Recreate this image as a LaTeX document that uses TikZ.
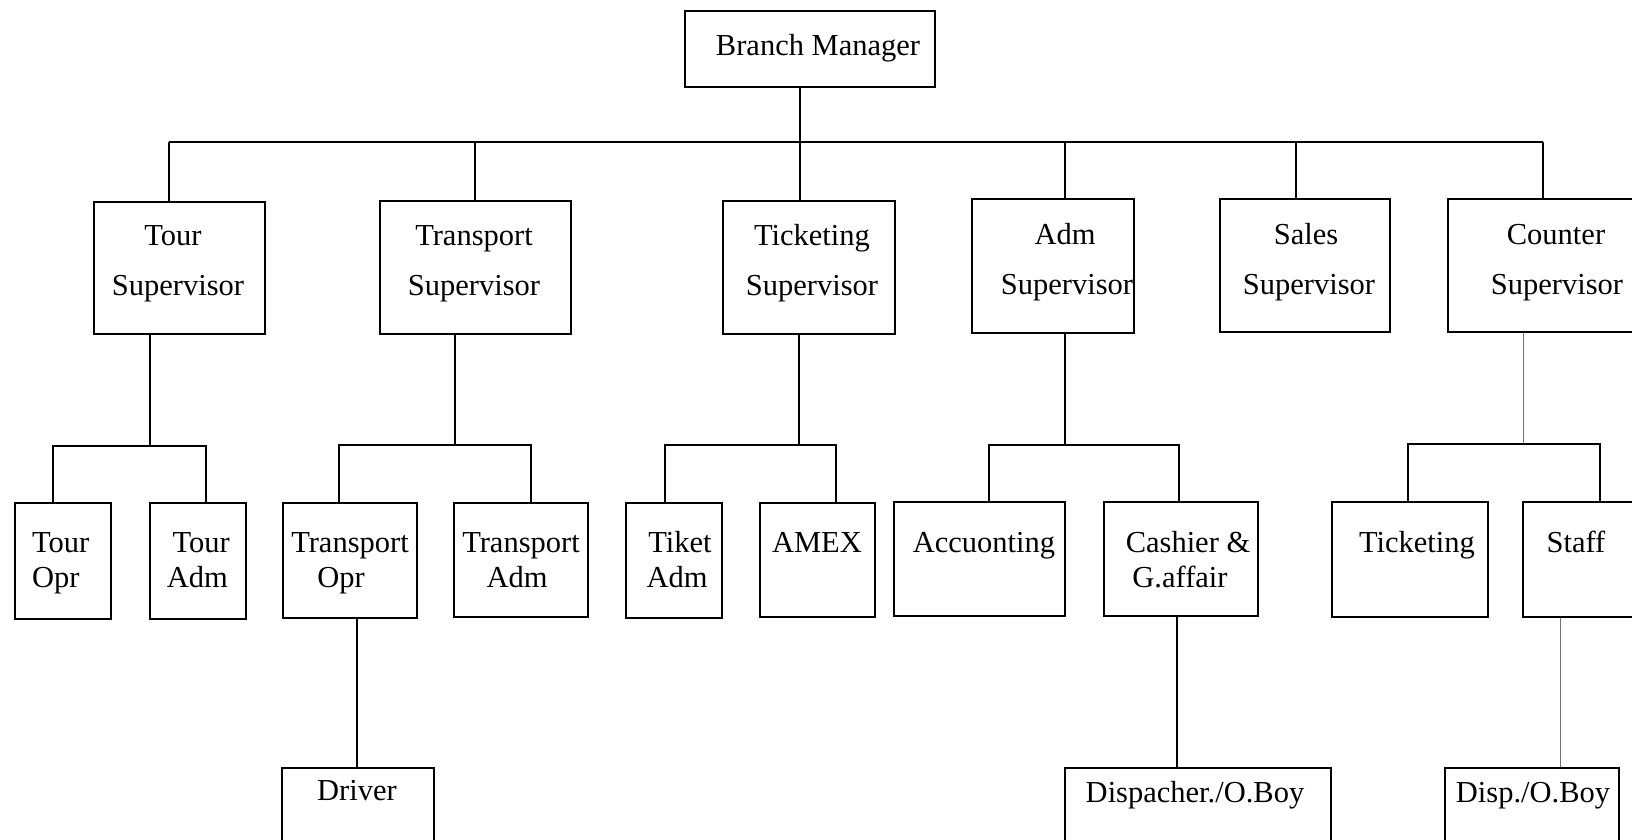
\documentclass[tikz,border=0pt]{standalone}
\usepackage{fontspec}
\setmainfont{Liberation Serif}
\begin{document}
\begin{tikzpicture}[x=1pt,y=-1pt,
  box/.style={draw, line width=1.8pt, inner sep=0pt, anchor=north west},
  ln/.style={line width=1.8pt},
  thinln/.style={line width=1pt, black!55},
  txt/.style={inner sep=0pt, anchor=base, font=\fontsize{30.5}{36}\selectfont}]
\begin{scope}
\clip (0,0) rectangle (1632,839);
\fill[white] (0,0) rectangle (1632,839);
% boxes
\newcommand\bx[5]{\node[box, minimum width={#4-#2}, minimum height={#5-#3}] (#1) at (#2,#3) {};}
\bx{bm}{684}{10}{934}{86}
\bx{tour}{93}{201}{264}{333}
\bx{trans}{379}{200}{570}{333}
\bx{tick}{722}{200}{894}{333}
\bx{adm}{971}{198}{1133}{332}
\bx{sales}{1219}{198}{1389}{331}
\bx{counter}{1447}{198}{1672}{331}
\bx{tourop}{14}{502}{110}{618}
\bx{touradm}{149}{502}{245}{618}
\bx{transop}{282}{502}{416}{617}
\bx{transadm}{453}{502}{587}{616}
\bx{tiketadm}{625}{502}{721}{617}
\bx{amex}{759}{502}{874}{616}
\bx{acc}{893}{501}{1064}{615}
\bx{cash}{1103}{501}{1257}{615}
\bx{cticket}{1331}{501}{1487}{616}
\bx{staff}{1522}{501}{1682}{616}
\bx{driver}{281}{767}{433}{870}
\bx{disp}{1064}{767}{1330}{870}
\bx{dispb}{1444}{767}{1618}{870}
% texts
\node[txt] (t-bm) at (818,55) {Branch Manager};
\node[txt] (t-tour1) at (173,245) {Tour};
\node[txt] (t-tour2) at (178,295) {Supervisor};
\node[txt] (t-trans1) at (474,245) {Transport};
\node[txt] (t-trans2) at (474,295) {Supervisor};
\node[txt] (t-tick1) at (812,245) {Ticketing};
\node[txt] (t-tick2) at (812,295) {Supervisor};
\node[txt] (t-adm1) at (1065,244) {Adm};
\node[txt] (t-adm2) at (1067,294) {Supervisor};
\node[txt] (t-sales1) at (1306,244) {Sales};
\node[txt] (t-sales2) at (1309,294) {Supervisor};
\node[txt] (t-counter1) at (1556,244) {Counter};
\node[txt] (t-counter2) at (1557,294) {Supervisor};
\node[txt, anchor=base west] (t-tourop1) at (32,552) {Tour};
\node[txt, anchor=base west] (t-tourop2) at (32,587) {Opr};
\node[txt, anchor=base east] (t-touradm1) at (230,552) {Tour};
\node[txt, anchor=base east] (t-touradm2) at (228,587) {Adm};
\node[txt] (t-transop1) at (350,552) {Transport};
\node[txt] (t-transop2) at (341,587) {Opr};
\node[txt] (t-transadm1) at (521,552) {Transport};
\node[txt] (t-transadm2) at (517,587) {Adm};
\node[txt] (t-tiketadm1) at (680,552) {Tiket};
\node[txt] (t-tiketadm2) at (677,587) {Adm};
\node[txt] (t-amex) at (817,552) {AMEX};
\node[txt] (t-acc) at (984,552) {Accuonting};
\node[txt] (t-cash1) at (1188,552) {Cashier \&};
\node[txt] (t-cash2) at (1180,587) {G.affair};
\node[txt] (t-cticket) at (1417,552) {Ticketing};
\node[txt] (t-staff) at (1576,552) {Staff};
\node[txt] (t-driver) at (357,800) {Driver};
\node[txt] (t-disp) at (1195,802) {Dispacher./O.Boy};
\node[txt] (t-dispb) at (1533,802) {Disp./O.Boy};
% connector coordinates
\coordinate (jbm) at (800,142);
\coordinate (j1) at (169,142);
\coordinate (j2) at (475,142);
\coordinate (j3) at (800,142);
\coordinate (j4) at (1065,142);
\coordinate (j5) at (1296,142);
\coordinate (j6) at (1543,142);
\draw[ln] (jbm |- bm.south) -- (jbm);
\draw[ln] (j1) -- (j6);
\foreach \j/\b in {j1/tour,j2/trans,j3/tick,j4/adm,j5/sales,j6/counter}
  \draw[ln] (\j) -- (\j |- \b.north);
% tour group
\coordinate (k1) at (150,446);
\coordinate (k1a) at (53,446);
\coordinate (k1b) at (206,446);
\draw[ln] (k1 |- tour.south) -- (k1);
\draw[ln] (tourop.north -| k1a) -- (k1a) -- (k1b) -- (k1b |- touradm.north);
% transport group
\coordinate (k2) at (455,445);
\coordinate (k2a) at (339,445);
\coordinate (k2b) at (531,445);
\draw[ln] (k2 |- trans.south) -- (k2);
\draw[ln] (transop.north -| k2a) -- (k2a) -- (k2b) -- (k2b |- transadm.north);
% ticketing group
\coordinate (k3) at (799,445);
\coordinate (k3a) at (665,445);
\coordinate (k3b) at (836,445);
\draw[ln] (k3 |- tick.south) -- (k3);
\draw[ln] (tiketadm.north -| k3a) -- (k3a) -- (k3b) -- (k3b |- amex.north);
% adm group
\coordinate (k4) at (1065,445);
\coordinate (k4a) at (989,445);
\coordinate (k4b) at (1179,445);
\draw[ln] (k4 |- adm.south) -- (k4);
\draw[ln] (acc.north -| k4a) -- (k4a) -- (k4b) -- (k4b |- cash.north);
% counter group
\coordinate (k6) at (1523,444);
\coordinate (k6a) at (1408,444);
\coordinate (k6b) at (1600,444);
\draw[thinln] (k6 |- counter.south) -- (k6);
\draw[line width=1.4pt] (cticket.north -| k6a) -- (k6a) -- (k6b) -- (k6b |- staff.north);
% third level
\coordinate (d1) at (357,700);
\coordinate (d2) at (1177,700);
\coordinate (d3) at (1560,700);
\draw[ln] (d1 |- transop.south) -- (d1 |- driver.north);
\draw[ln] (d2 |- cash.south) -- (d2 |- disp.north);
\draw[thinln] (d3 |- staff.south) -- (d3 |- dispb.north);
\end{scope}
\pgfresetboundingbox
\path[use as bounding box] (0,0) rectangle (1632,839);
\end{tikzpicture}
\end{document}
